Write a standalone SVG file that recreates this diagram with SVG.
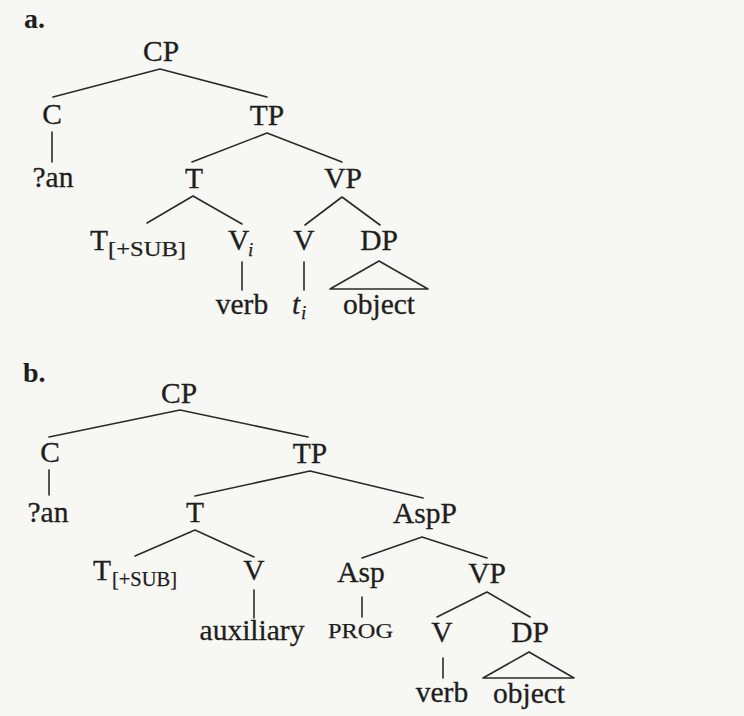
<svg xmlns="http://www.w3.org/2000/svg" width="744" height="716" viewBox="0 0 744 716">
  <style>
    .lbl { font-family: "Liberation Serif", "Times New Roman", serif; font-size: 29.5px; fill: #1e1e1e; stroke: #1e1e1e; stroke-width: 0.3; }
    .mid { text-anchor: middle; }
    .sub { font-family: "Liberation Serif", "Times New Roman", serif; font-size: 19px; fill: #1e1e1e; stroke: #1e1e1e; stroke-width: 0.25; }
    .sc { font-size: 20px; }
    .it { font-style: italic; }
    .panel { font-family: "Liberation Serif", "Times New Roman", serif; font-size: 28px; font-weight: bold; fill: #1e1e1e; }
    .edge { stroke: #2a2a2a; stroke-width: 1.6; fill: none; stroke-linecap: round; stroke-linejoin: round; }
  </style>
  <rect x="0" y="0" width="744" height="716" fill="#f7f7f3"/>

  <!-- tree (a) -->
  <text class="panel" x="24" y="28">a.</text>
  <g id="a-edges">
    <polyline class="edge" points="53,97 160,69 267,97"/>
    <line class="edge" x1="52" y1="132" x2="52" y2="162"/>
    <polyline class="edge" points="192,162 267,133 342,162"/>
    <polyline class="edge" points="147,223 193,196 242,224"/>
    <polyline class="edge" points="305,225 342,197 380,225"/>
    <line class="edge" x1="242" y1="262" x2="242" y2="290"/>
    <line class="edge" x1="304" y1="262" x2="304" y2="290"/>
    <polygon class="edge" points="379,261 330,289 428,289"/>
  </g>
  <g id="a-CP"><text class="lbl mid" x="161" y="61">CP</text></g>
  <g id="a-C"><text class="lbl mid" x="52" y="124">C</text></g>
  <g id="a-TP"><text class="lbl mid" x="267" y="125">TP</text></g>
  <g id="a-an"><text class="lbl mid" x="53" y="187">?an</text></g>
  <g id="a-T"><text class="lbl mid" x="194" y="188">T</text></g>
  <g id="a-VP"><text class="lbl mid" x="343" y="188">VP</text></g>
  <g id="a-Tsub"><text class="lbl" x="90" y="250">T</text><text class="sub sc" x="108" y="256" textLength="78" lengthAdjust="spacingAndGlyphs">[+SUB]</text></g>
  <g id="a-Vi"><text class="lbl" x="228" y="250">V</text><text class="sub it" x="248" y="256">i</text></g>
  <g id="a-V"><text class="lbl mid" x="304" y="250">V</text></g>
  <g id="a-DP"><text class="lbl mid" x="379" y="250">DP</text></g>
  <g id="a-verb"><text class="lbl mid" x="242" y="314">verb</text></g>
  <g id="a-ti"><text class="lbl it" x="292" y="314">t</text><text class="sub it" x="301" y="319">i</text></g>
  <g id="a-object"><text class="lbl mid" x="379" y="314">object</text></g>

  <!-- tree (b) -->
  <text class="panel" x="23" y="382">b.</text>
  <g id="b-edges">
    <polyline class="edge" points="49,437 180,410 308,437"/>
    <line class="edge" x1="49" y1="470" x2="49" y2="495"/>
    <polyline class="edge" points="195,496 310,471 423,498"/>
    <polyline class="edge" points="135,556 195,530 254,557"/>
    <polyline class="edge" points="362,558 422,537 487,558"/>
    <line class="edge" x1="254" y1="590" x2="254" y2="618"/>
    <line class="edge" x1="362" y1="597" x2="362" y2="617"/>
    <polyline class="edge" points="437,617 487,592 530,617"/>
    <line class="edge" x1="443" y1="658" x2="443" y2="678"/>
    <polygon class="edge" points="529,652 483,678 574,678"/>
  </g>
  <g id="b-CP"><text class="lbl mid" x="179" y="403">CP</text></g>
  <g id="b-C"><text class="lbl mid" x="50" y="462">C</text></g>
  <g id="b-TP"><text class="lbl mid" x="310" y="463">TP</text></g>
  <g id="b-an"><text class="lbl mid" x="48" y="522">?an</text></g>
  <g id="b-T"><text class="lbl mid" x="195" y="522">T</text></g>
  <g id="b-AspP"><text class="lbl mid" x="425" y="523">AspP</text></g>
  <g id="b-Tsub"><text class="lbl" x="93" y="580">T</text><text class="sub sc" x="112" y="586" textLength="65" lengthAdjust="spacingAndGlyphs">[+SUB]</text></g>
  <g id="b-V1"><text class="lbl mid" x="254" y="580">V</text></g>
  <g id="b-Asp"><text class="lbl mid" x="361" y="582">Asp</text></g>
  <g id="b-VP"><text class="lbl mid" x="487" y="583">VP</text></g>
  <g id="b-aux"><text class="lbl mid" x="252" y="640">auxiliary</text></g>
  <g id="b-PROG"><text class="sub sc" x="328" y="638" textLength="65" lengthAdjust="spacingAndGlyphs">PROG</text></g>
  <g id="b-V2"><text class="lbl mid" x="442" y="642">V</text></g>
  <g id="b-DP"><text class="lbl mid" x="530" y="642">DP</text></g>
  <g id="b-verb"><text class="lbl mid" x="442" y="702">verb</text></g>
  <g id="b-object"><text class="lbl mid" x="529" y="703">object</text></g>
</svg>
